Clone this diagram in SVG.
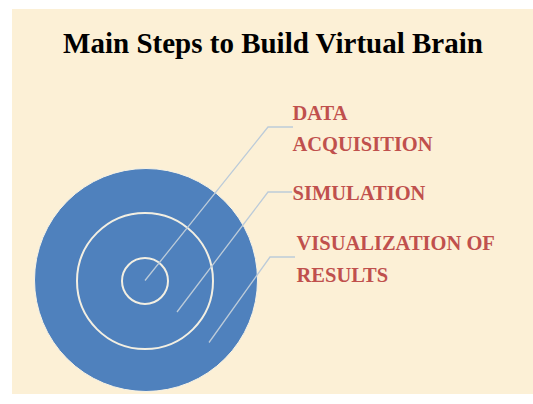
<svg xmlns="http://www.w3.org/2000/svg" width="533" height="404" viewBox="0 0 533 404">
<style>
.title{font-family:"Liberation Serif","Times New Roman",serif;font-weight:bold;font-size:29px;fill:#000}
.lbl{font-family:"Liberation Serif","Times New Roman",serif;font-weight:bold;font-size:20.5px;fill:#c0504d}
.ring{fill:none;stroke:#f3efe2;stroke-width:2}
.conn{fill:none;stroke:#bccbd9;stroke-width:1.3}
</style>
<rect x="0" y="0" width="533" height="404" fill="#ffffff"/>
<rect x="12" y="9" width="521" height="385" fill="#fcf0d6"/>
<text class="title" x="273" y="53" text-anchor="middle">Main Steps to Build Virtual Brain</text>
<g id="outer">
<circle cx="146" cy="280" r="111.5" fill="#4f81bd" stroke="#f7f3e6" stroke-width="1"/>
</g>
<g id="middle"><circle class="ring" cx="145" cy="281" r="68"/></g>
<g id="inner"><circle class="ring" cx="145" cy="281" r="23"/></g>
<g id="connectors">
<polyline class="conn" points="145,280.5 268,127 293,127"/>
<polyline class="conn" points="177,312 268,192 292,192"/>
<polyline class="conn" points="209,342.5 270,257 295,257"/>
</g>
<g id="label-data">
<text class="lbl" x="292.5" y="119.5">DATA</text>
<text class="lbl" x="292.5" y="151">ACQUISITION</text>
</g>
<g id="label-simulation">
<text class="lbl" x="292.5" y="200">SIMULATION</text>
</g>
<g id="label-visualization">
<text class="lbl" x="296.5" y="249.5">VISUALIZATION OF</text>
<text class="lbl" x="296.5" y="281.5">RESULTS</text>
</g>
</svg>
